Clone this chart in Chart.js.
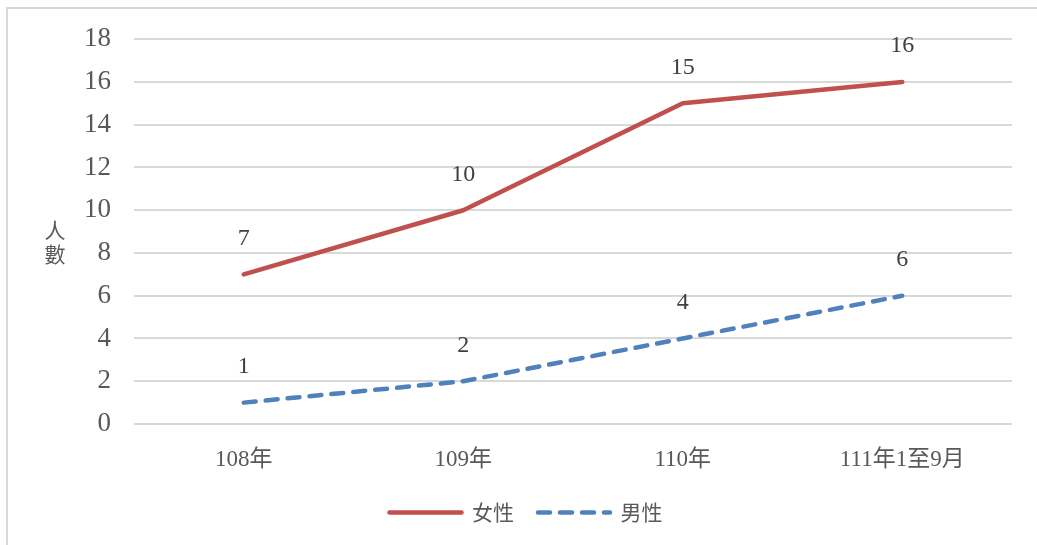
<!DOCTYPE html>
<html lang="zh-Hant">
<head>
<meta charset="utf-8">
<title>人數</title>
<script src="https://cdn.jsdelivr.net/npm/chart.js@4.4.1/dist/chart.umd.min.js"></script>
<style>
  html, body { margin: 0; padding: 0; background: #fff; overflow: hidden; }
  #wrap { position: relative; width: 1037px; height: 545px; overflow: hidden; }
  #frame { position: absolute; left: 6px; top: 7px; width: 1200px; height: 700px;
           border: 2px solid #d9d9d9; box-sizing: border-box; }
  canvas { position: absolute; left: 0; top: 0; }
</style>
</head>
<body>
<div id="wrap">
  <div id="frame"></div>
  <canvas id="c" width="1037" height="545"></canvas>
</div>
<script>
// Years on the category axis
const categories = ['108年', '109年', '110年', '111年1至9月'];
// Counts per year
const female = [7, 10, 15, 16];
const male = [1, 2, 4, 6];
const seriesNames = ['女性', '男性'];
const yTitleChars = ['人', '數'];

const serif = '"Liberation Serif", "Noto Sans CJK TC", serif';
const cjk = '"Noto Sans CJK TC", "Liberation Serif", sans-serif';
const textColor = '#595959';

// Value labels above each point
const valueLabels = {
  id: 'valueLabels',
  afterDatasetsDraw(chart) {
    const ctx = chart.ctx;
    ctx.save();
    ctx.font = '24px ' + serif;
    ctx.fillStyle = '#404040';
    ctx.textAlign = 'center';
    ctx.textBaseline = 'middle';
    chart.data.datasets.forEach((ds, i) => {
      chart.getDatasetMeta(i).data.forEach((pt, j) => {
        ctx.fillText(String(ds.data[j]), pt.x, pt.y - 36);
      });
    });
    ctx.restore();
  }
};

// Vertical axis title with upright, stacked characters
const stackedTitle = {
  id: 'stackedTitle',
  afterDraw(chart) {
    const { ctx, chartArea } = chart;
    const mid = (chartArea.top + chartArea.bottom) / 2 + 10;
    ctx.save();
    ctx.font = '21px ' + cjk;
    ctx.fillStyle = textColor;
    ctx.textAlign = 'center';
    ctx.textBaseline = 'middle';
    const step = 24;
    yTitleChars.forEach((ch, k) => {
      ctx.fillText(ch, chartArea.left - 79, mid + (k - (yTitleChars.length - 1) / 2) * step);
    });
    ctx.restore();
  }
};

new Chart(document.getElementById('c'), {
  type: 'line',
  data: {
    labels: categories,
    datasets: [
      {
        label: seriesNames[0],
        data: female,
        borderColor: '#C0504D',
        backgroundColor: '#C0504D',
        borderWidth: 4.5,
        borderCapStyle: 'round',
        borderJoinStyle: 'round',
        pointRadius: 0,
        pointHoverRadius: 0,
        tension: 0
      },
      {
        label: seriesNames[1],
        data: male,
        borderColor: '#4F81BD',
        backgroundColor: '#4F81BD',
        borderWidth: 4.5,
        borderDash: [12, 10],
        borderCapStyle: 'round',
        borderJoinStyle: 'round',
        pointRadius: 0,
        pointHoverRadius: 0,
        tension: 0
      }
    ]
  },
  options: {
    responsive: false,
    animation: false,
    events: [],
    layout: { padding: { left: 40, right: 25, top: 38, bottom: 12 } },
    scales: {
      x: {
        offset: true,
        grid: { display: false },
        border: { display: false },
        ticks: { font: { family: serif, size: 23 }, color: textColor, padding: 14, maxRotation: 0 },
        afterFit(s) { s.height = 54; }
      },
      y: {
        min: 0,
        max: 18,
        ticks: { stepSize: 2, font: { family: serif, size: 27 }, color: textColor, padding: 23 },
        grid: { color: '#d9d9d9', lineWidth: 2, drawTicks: false },
        border: { display: false },
        afterFit(s) { s.width = 94; }
      }
    },
    plugins: {
      legend: {
        position: 'bottom',
        align: 'center',
        labels: {
          usePointStyle: true,
          pointStyle: 'line',
          pointStyleWidth: 72,
          font: { family: cjk, size: 21 },
          color: textColor,
          padding: 24,
          // legend samples keep each series' stroke: width, dash and caps
          generateLabels(chart) {
            return chart.data.datasets.map((ds, i) => ({
              text: ds.label,
              datasetIndex: i,
              fillStyle: ds.borderColor,
              strokeStyle: ds.borderColor,
              fontColor: textColor,
              lineWidth: ds.borderWidth,
              lineDash: ds.borderDash || [],
              lineCap: 'round',
              lineJoin: 'round',
              pointStyle: 'line',
              hidden: false
            }));
          }
        }
      },
      tooltip: { enabled: false }
    }
  },
  plugins: [valueLabels, stackedTitle]
});
</script>
</body>
</html>
